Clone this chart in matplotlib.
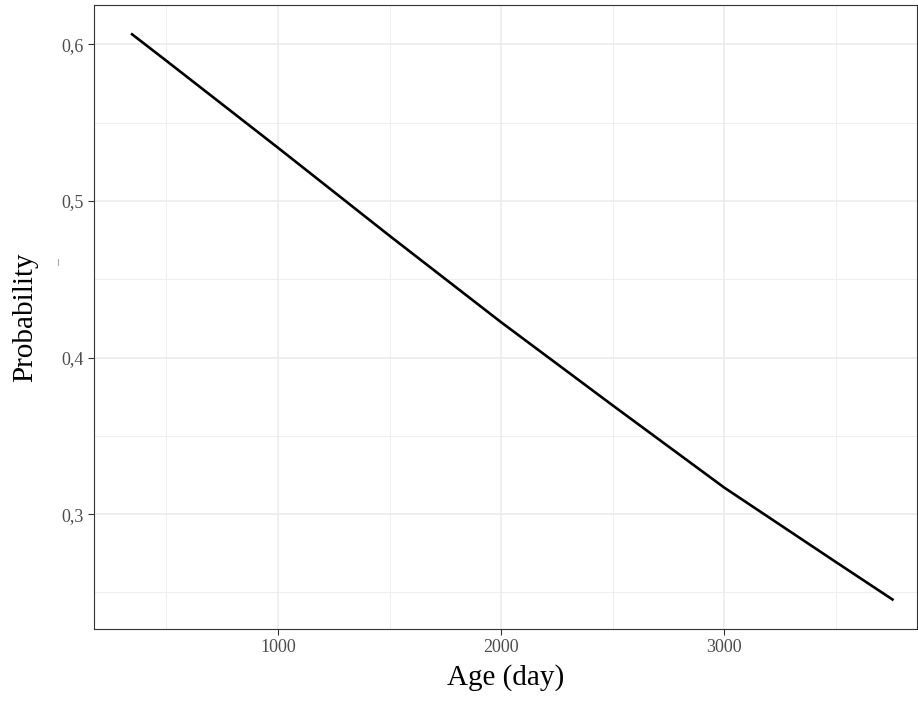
import matplotlib
matplotlib.use("Agg")
import matplotlib.pyplot as plt
from matplotlib.ticker import MultipleLocator, FuncFormatter
from matplotlib.lines import Line2D

age = [341, 500, 1000, 1500, 2000, 2500, 3000, 3500, 3760]
prob = [0.607, 0.5895, 0.534, 0.4778, 0.4226, 0.3695, 0.317, 0.2695, 0.2450]

x_ticks = [1000, 2000, 3000]
y_ticks = [0.3, 0.4, 0.5, 0.6]

plt.rcParams['font.family'] = ['Liberation Serif', 'DejaVu Serif']

fig = plt.figure(figsize=(9.18, 7.01), dpi=100)
ax = fig.add_axes([94/918, 1 - 629/701, (917-94)/918, (629-5)/701])

ax.plot(age, prob, color='black', linewidth=1.9, solid_capstyle='butt',
        solid_joinstyle='round', zorder=3)

ax.set_xlim(175, 3865)
ax.set_ylim(0.2266, 0.6252)
ax.set_xticks(x_ticks)
ax.set_yticks(y_ticks)
ax.xaxis.set_minor_locator(MultipleLocator(500))
ax.yaxis.set_minor_locator(MultipleLocator(0.05))
ax.yaxis.set_major_formatter(FuncFormatter(lambda v, p: f"{v:.1f}".replace('.', ',')))
ax.xaxis.set_major_formatter(FuncFormatter(lambda v, p: f"{int(v)}"))

ax.grid(which='major', color='#EBEBEB', linewidth=1.1, zorder=0)
ax.grid(which='minor', color='#EBEBEB', linewidth=0.6, zorder=0)
ax.set_axisbelow(True)

for s in ax.spines.values():
    s.set_color('#333333')
    s.set_linewidth(0.8)
ax.tick_params(which='major', length=4.3, width=0.8, color='#333333',
               labelcolor='#4D4D4D', labelsize=13, pad=3)
ax.tick_params(which='minor', length=0)

ax.set_xlabel('Age (day)', fontsize=21, color='black', labelpad=6)
ax.set_ylabel('Probability', fontsize=21, color='black', labelpad=17)

# small stray grey dash left of the y tick labels, as in the reference
fig.add_artist(Line2D([58/918, 58/918], [1 - 259/701, 1 - 265/701],
                      color='#AAAAAA', linewidth=0.8))

fig.savefig('out.png', dpi=100, facecolor='white')
